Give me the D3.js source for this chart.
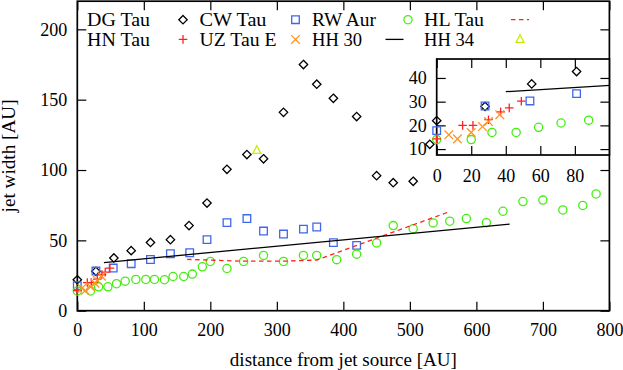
<!DOCTYPE html>
<html><head><meta charset="utf-8">
<script src="https://cdn.jsdelivr.net/npm/d3@7/dist/d3.min.js"></script>
<style>
body{margin:0;background:#fff}
svg{display:block}
text{font-family:"Liberation Serif","Times New Roman",serif;font-size:18px;fill:#000}
</style>
</head><body>
<svg id="c" width="623" height="370"></svg>
<script>
// ---- data ----
const dgTauX = [-4, 0, 28, 55, 81, 110, 140, 168, 195, 225, 255, 280, 310, 340, 360, 385, 420, 450, 475, 505];
const dgTauY = [12, 22, 28, 37.5, 42.7, 48.5, 50.5, 60.5, 76.5, 100.5, 111, 108, 141, 175, 161, 151, 138, 96, 91, 92];
const cwTauX = [0, 28, 54, 81, 110, 140, 169, 195, 225, 255, 280, 310, 340, 360, 385, 420];
const cwTauY = [17.8, 28.2, 30.3, 33.4, 36.4, 40.5, 41.2, 50.5, 62.6, 65.5, 56.6, 54.5, 58, 59.5, 48.4, 46.4];
const rwAurX = [0, 20, 32, 46, 59, 72, 88, 103, 116, 131, 144, 160, 173, 188, 200, 225, 250, 280, 310, 340, 360, 390, 420, 450, 475, 505, 535, 560, 585, 615, 640, 670, 700, 730, 760, 780];
const rwAurY = [14, 14, 17, 17, 19.2, 21, 22.2, 22.2, 22.2, 22, 24.3, 24.3, 26, 31.2, 35, 30, 35, 39.3, 35, 39.3, 39.3, 36.3, 40.2, 48.2, 60.5, 58.3, 62.4, 63.6, 65.5, 62.6, 70.7, 77.6, 78.6, 71.6, 74.8, 83];
const hlTauX = [165, 250, 310, 360, 560];
const hlTauY = [36.5, 35.2, 35.2, 36, 70.5];
const hnTauX = [0, 15, 21, 30, 37, 42, 49];
const hnTauY = [14.3, 20, 20, 22.4, 25.7, 27.4, 30.2];
const uzTauX = [7, 12, 20, 26.5, 30, 36.5];
const uzTauY = [16, 14.3, 17, 19.5, 21.6, 24.5];
const hh30X = [40, 650];
const hh30Y = [34.2, 61.5];
const hh34X = [270];
const hh34Y = [114];

const legendLabels = ["DG Tau", "CW Tau", "RW Aur", "HL Tau", "HN Tau", "UZ Tau E", "HH 30", "HH 34"];
const xTicks = [0, 100, 200, 300, 400, 500, 600, 700, 800];
const yTicks = [0, 50, 100, 150, 200];
const insetXTicks = [0, 20, 40, 60, 80];
const insetYTicks = [10, 20, 30, 40];
const xTitle = "distance from jet source [AU]";
const yTitle = "jet width [AU]";

// ---- styles ----
const C = {blue:"#3f66ee", green:"#44ee11", red:"#ff2020", orange:"#ff9422", tri:"#c4ee00", black:"#000"};
const legendWidths = [63, 67, 64, 60, 63, 77, 50, 50];
const series = [
  {xs:dgTauX, ys:dgTauY, type:"diamond", color:C.black},
  {xs:cwTauX, ys:cwTauY, type:"square", color:C.blue},
  {xs:rwAurX, ys:rwAurY, type:"circle", color:C.green},
  {xs:hlTauX, ys:hlTauY, type:"dash", color:C.red},
  {xs:hnTauX, ys:hnTauY, type:"plus", color:C.red},
  {xs:uzTauX, ys:uzTauY, type:"cross", color:C.orange},
  {xs:hh30X, ys:hh30Y, type:"line", color:C.black},
  {xs:hh34X, ys:hh34Y, type:"triangle", color:C.tri}
];
series.forEach((s,i)=>{ s.name = legendLabels[i]; s.w = legendWidths[i]; });

function symPath(type){
  const r=4.2;
  switch(type){
    case "diamond": return `M0,${-r}L${r},0L0,${r}L${-r},0Z`;
    case "square": return `M-3.8,-3.8h7.6v7.6h-7.6Z`;
    case "plus": return `M-4.3,0H4.3M0,-4.3V4.3`;
    case "cross": return `M-4.3,-4.3L4.3,4.3M-4.3,4.3L4.3,-4.3`;
    case "triangle": return `M0,-4.6L4,3L-4,3Z`;
  }
}

const svg = d3.select("#c");
const L=77.3, R=609.4, T=1.2, B=310.7;
const x = d3.scaleLinear().domain([0,800]).range([L,R]);
const y = d3.scaleLinear().domain([0,220]).range([B,T]);

function drawAxes(g, xs, ys, xt, yt, xl, xr, yt0, yb, padX, padY){
  const ax = g.append("g").attr("transform",`translate(0,${yb})`)
    .call(d3.axisBottom(xs).tickValues(xt).tickSize(-9).tickPadding(padX).tickFormat(d3.format("d")));
  const axT = g.append("g").attr("transform",`translate(0,${yt0})`)
    .call(d3.axisTop(xs).tickValues(xt).tickSize(-9).tickFormat(""));
  const ay = g.append("g").attr("transform",`translate(${xl},0)`)
    .call(d3.axisLeft(ys).tickValues(yt).tickSize(-9).tickPadding(padY).tickFormat(d3.format("d")));
  const ayR = g.append("g").attr("transform",`translate(${xr},0)`)
    .call(d3.axisRight(ys).tickValues(yt).tickSize(-9).tickFormat(""));
  [ax,axT,ay,ayR].forEach(a=>{
    a.select(".domain").remove();
    a.selectAll(".tick line").attr("stroke","#000").attr("stroke-width",1.2);
    a.selectAll("text").attr("font-size",null).attr("font-family",null).attr("fill","#000");
  });
  g.append("rect").attr("x",xl).attr("y",yt0).attr("width",xr-xl).attr("height",yb-yt0)
    .attr("fill","none").attr("stroke","#000").attr("stroke-width",1.7);
}

function drawSeries(g, xs, ys, filterX){
  series.forEach(s=>{
    let pts = s.xs.map((v,i)=>[v,s.ys[i]]);
    if(filterX) pts = pts.filter(p=>p[0]>=xs.domain()[0] && p[0]<=xs.domain()[1]);
    if(s.type==="dash"||s.type==="line"){
      g.append("path").datum(pts)
        .attr("d", d3.line().x(p=>xs(p[0])).y(p=>ys(p[1])))
        .attr("fill","none").attr("stroke",s.color).attr("stroke-width",1.3)
        .attr("stroke-dasharray", s.type==="dash" ? "4.5,3.5" : null);
    } else if(s.type==="circle"){
      g.selectAll(null).data(pts).enter().append("circle")
        .attr("cx",p=>xs(p[0])).attr("cy",p=>ys(p[1])).attr("r",4.1)
        .attr("fill","none").attr("stroke",s.color).attr("stroke-width",1.3);
    } else {
      g.selectAll(null).data(pts).enter().append("path")
        .attr("transform",p=>`translate(${xs(p[0])},${ys(p[1])})`)
        .attr("d",symPath(s.type))
        .attr("fill","none").attr("stroke",s.color).attr("stroke-width",1.3);
    }
  });
}

// main plot
const main = svg.append("g");
drawAxes(main, x, y, xTicks, yTicks, L, R, T, B, 13, 10);
drawSeries(main, x, y, true);

// legend
const leg = svg.append("g");
const colX = [87, 199.5, 312, 424], rowY = [26, 45.7], symOff = 96;
series.forEach((s,i)=>{
  const cx = colX[i%4], ry = rowY[Math.floor(i/4)];
  leg.append("text").attr("x",cx).attr("y",ry)
    .attr("textLength",s.w).attr("lengthAdjust","spacingAndGlyphs").text(s.name);
  const sx = cx+symOff, sy = ry-6.3;
  if(s.type==="dash"||s.type==="line"){
    leg.append("line").attr("x1",sx-9).attr("x2",sx+9).attr("y1",sy).attr("y2",sy)
      .attr("stroke",s.color).attr("stroke-width",1.3)
      .attr("stroke-dasharray", s.type==="dash" ? "4.5,3.5" : null)
      .attr("transform", s.type==="line" ? "translate(-13.5,0)" : null);
  } else if(s.type==="circle"){
    leg.append("circle").attr("cx",sx).attr("cy",sy).attr("r",4.1)
      .attr("fill","none").attr("stroke",s.color).attr("stroke-width",1.3);
  } else {
    leg.append("path").attr("transform",`translate(${sx},${sy})`).attr("d",symPath(s.type))
      .attr("fill","none").attr("stroke",s.color).attr("stroke-width",1.3);
  }
});

// axis titles
svg.append("text").attr("x",(L+R)/2).attr("y",366).attr("text-anchor","middle")
  .attr("textLength",227).attr("lengthAdjust","spacingAndGlyphs").text(xTitle);
svg.append("text").attr("transform",`translate(15,${(T+B)/2}) rotate(-90)`).attr("text-anchor","middle")
  .attr("textLength",113).attr("lengthAdjust","spacingAndGlyphs").text(yTitle);

// inset
const iL=436.7, iR=609.4, iT=59, iB=155;
const xi = d3.scaleLinear().domain([0,100]).range([iL,iR]);
const yi = d3.scaleLinear().domain([7.5,48]).range([iB,iT]);
const inset = svg.append("g");
inset.append("rect").attr("x",iL).attr("y",iT).attr("width",iR-iL).attr("height",iB-iT).attr("fill","#fff");
drawAxes(inset, xi, yi, insetXTicks, insetYTicks, iL, iR, iT, iB, 14, 10);
svg.append("clipPath").attr("id","ic").append("rect")
  .attr("x",iL-12).attr("y",iT).attr("width",iR-iL+12).attr("height",iB-iT);
const insetData = inset.append("g").attr("clip-path","url(#ic)");
drawSeries(insetData, xi, yi, false);
</script>
</body></html>
